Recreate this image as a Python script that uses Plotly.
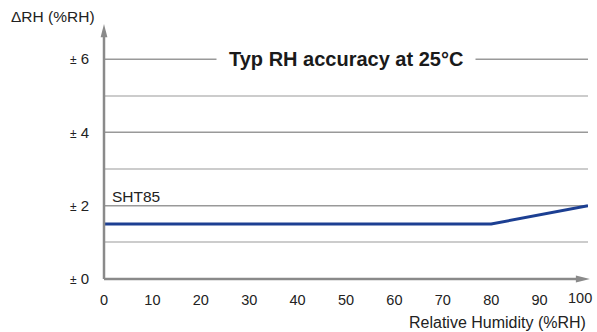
import plotly.graph_objects as go

rh = [0, 80, 100]
acc = [1.5, 1.5, 2.0]
x_ticks = [0, 10, 20, 30, 40, 50, 60, 70, 80, 90, 100]
y_ticks = [0, 2, 4, 6]
y_ticktext = ["<span style='font-size:12px'>±</span> %d" % v for v in y_ticks]

FONT = "Liberation Sans, Arial, sans-serif"
AX = "#8a8a8a"
TXT = "#222222"

fig = go.Figure()
fig.add_trace(go.Scatter(x=rh, y=acc, mode="lines",
                         line=dict(color="#1c3f92", width=3), showlegend=False, hoverinfo="skip"))

fig.update_layout(
    width=597, height=332,
    margin=dict(l=104, r=9, t=58, b=53),
    paper_bgcolor="white", plot_bgcolor="white",
    font=dict(family=FONT, size=14.5, color=TXT),
    xaxis=dict(range=[0, 100], tickvals=x_ticks[:-1], showgrid=False, zeroline=False,
               showline=False, ticks="", ticklen=0, ticklabelstandoff=10,
               tickfont=dict(size=14.5, color=TXT), fixedrange=True),
    yaxis=dict(range=[0, 6.03], tickvals=y_ticks, ticktext=y_ticktext, showgrid=True,
               gridcolor="#999999", gridwidth=1, zeroline=False, showline=False,
               ticks="", ticklabelstandoff=14, tickfont=dict(size=15, color=TXT),
               minor=dict(dtick=1, showgrid=True, gridcolor="#cccccc", gridwidth=1.5),
               fixedrange=True),
)

# last x tick label, pulled in to fit the page as in the reference
fig.add_annotation(text=str(x_ticks[-1]), xref="paper", yref="paper", x=(594 - 104) / 484.0,
                   y=(280 - 299) / 221.0, xanchor="right", yanchor="middle",
                   showarrow=False, font=dict(family=FONT, size=14.5, color=TXT))

# axis lines with arrowheads (paper coords, unclipped)
ytop = (280 - 25) / 221.0
fig.add_shape(type="line", xref="paper", yref="paper", x0=0, x1=0, y0=0, y1=ytop - 0.04,
              line=dict(color=AX, width=2.5))
fig.add_shape(type="path", xref="paper", yref="paper",
              path="M -0.007 %.4f L 0.007 %.4f L 0 %.4f Z" % (ytop - 0.06, ytop - 0.06, ytop),
              fillcolor=AX, line=dict(color=AX, width=0))
xr = 1.004
fig.add_shape(type="line", xref="paper", yref="paper", x0=0, x1=xr - 0.02, y0=0, y1=0,
              line=dict(color=AX, width=2.5))
fig.add_shape(type="path", xref="paper", yref="paper",
              path="M %.4f -0.016 L %.4f 0.016 L %.4f 0 Z" % (xr - 0.029, xr - 0.029, xr),
              fillcolor=AX, line=dict(color=AX, width=0))

fig.add_annotation(text="<b>Typ RH accuracy at 25°C</b>", x=50.0, y=6, xref="x", yref="y",
                   showarrow=False, font=dict(family=FONT, size=20, color="#1a1a1a"),
                   bgcolor="white", borderpad=12)
fig.add_annotation(text="SHT85", x=1.3, y=2.26, xref="x", yref="y", xanchor="left",
                   showarrow=False, font=dict(family=FONT, size=15.5, color=TXT))
fig.add_annotation(text="ΔRH (%RH)", xref="paper", yref="paper",
                   x=(9 - 104) / 484.0, y=(280 - 17) / 221.0, xanchor="left", yanchor="middle",
                   showarrow=False, font=dict(family=FONT, size=15.5, color=TXT))
fig.add_annotation(text="Relative Humidity (%RH)", x=1.0, y=(280 - 323) / 221.0,
                   xref="paper", yref="paper", xanchor="right", yanchor="middle",
                   showarrow=False, font=dict(family=FONT, size=16, color=TXT))

fig.write_html("out.html")
